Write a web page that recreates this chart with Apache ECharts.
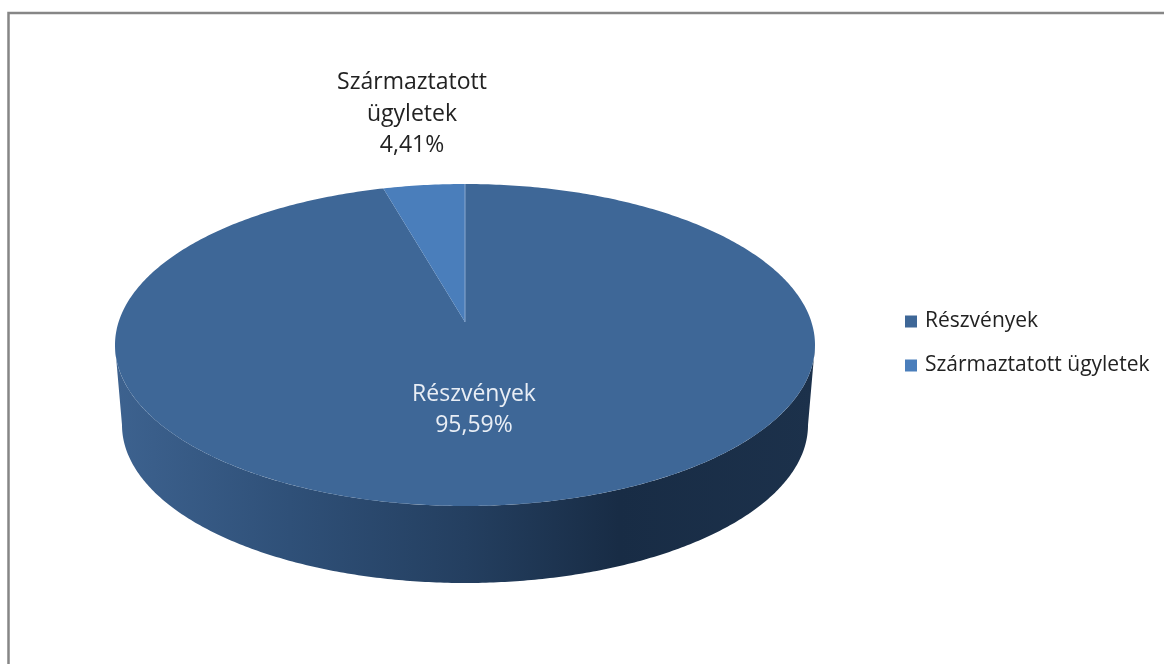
<!DOCTYPE html>
<html><head><meta charset="utf-8">
<style>html,body{margin:0;padding:0;background:#fff}#c{width:1164px;height:664px}</style>
<script src="https://cdn.jsdelivr.net/npm/echarts@6/dist/echarts.min.js"></script>
</head><body><div id="c"></div>
<script>
var categories = ['Részvények', 'Származtatott ügyletek'];
var values = [95.59, 4.41];
var labelNames = ['Részvények', 'Származtatott\nügyletek'];
var sliceColors = ['#3e6797', '#4a7ebb'];
var labelColors = ['#e9eef5', '#222222'];

var FONT = '"Open Sans","Noto Sans",sans-serif';
var TIP = {x: 465, y: 322};
var TOP = {cx: 465, cy: 345, rx: 350, ry: 161};
var BOTTOM = {cx: 465, cy: 425, rx: 343, ry: 158};
var LABEL_POS = [{x: 474, y: 410}, {x: 412, y: 114}];
var VIEW_FACTOR = 0.85; // tilted view compresses angles near the far edge

function ell(e, t) { return [e.cx + e.rx * Math.sin(t), e.cy - e.ry * Math.cos(t)]; }
function arc(e, a, b) {
  var pts = [], n = Math.max(8, Math.ceil(Math.abs(b - a) * 90));
  for (var i = 0; i <= n; i++) pts.push(ell(e, a + (b - a) * i / n));
  return pts;
}
var total = values.reduce(function (s, v) { return s + v; }, 0);

function renderSlice(idx) {
  return function (params, api) {
    var v = api.value(0);
    var startShare = 0;
    for (var i = 0; i < idx; i++) startShare += values[i];
    var a = startShare / total * Math.PI * 2;
    var b = a + v / total * Math.PI * 2;
    // the tilted view is applied around the slice boundary at 12 o'clock
    var wedgeTurn = function (t) { return Math.PI * 2 - (Math.PI * 2 - t) * VIEW_FACTOR; };
    var sa = idx === 0 ? a : wedgeTurn(a), sb = idx === 0 ? wedgeTurn(b) : b;
    var children = [];
    if (idx === 0) {
      var wall = arc(TOP, Math.PI / 2, Math.PI * 1.5).concat(arc(BOTTOM, Math.PI * 1.5, Math.PI / 2));
      children.push({
        type: 'polygon', shape: {points: wall},
        style: {fill: {type: 'linear', global: true, x: 115, y: 0, x2: 815, y2: 0, colorStops: [
          {offset: 0, color: '#3d628f'}, {offset: 0.25, color: '#2f5078'},
          {offset: 0.5, color: '#243f60'}, {offset: 0.72, color: '#182c45'},
          {offset: 1, color: '#1c314b'}]}}
      });
    }
    children.push({
      type: 'polygon', shape: {points: [[TIP.x, TIP.y]].concat(arc(TOP, sa, sb))},
      style: {fill: sliceColors[idx]}
    });
    if (idx === 1) {
      children.push({
        type: 'line', shape: {x1: TIP.x, y1: TIP.y, x2: TOP.cx, y2: TOP.cy - TOP.ry},
        style: {stroke: '#8aa9cf', lineWidth: 1}
      });
    }
    children.push({
      type: 'text', z2: 10,
      style: {
        x: LABEL_POS[idx].x, y: LABEL_POS[idx].y,
        text: labelNames[idx] + '\n' + v.toFixed(2).replace('.', ',') + '%',
        fill: labelColors[idx], font: '23px ' + FONT, lineHeight: 31.5,
        align: 'center', verticalAlign: 'middle'
      }
    });
    return {type: 'group', children: children};
  };
}

var chart = echarts.init(document.getElementById('c'));
chart.setOption({
  animation: false,
  backgroundColor: '#ffffff',
  legend: {
    orient: 'vertical', left: 905, top: 311, padding: 0, icon: 'rect',
    itemWidth: 12, itemHeight: 12, itemGap: 23,
    textStyle: {fontFamily: FONT, fontSize: 21, color: '#222222', padding: [0, 0, 0, 3]},
    data: categories
  },
  graphic: [{
    type: 'rect', silent: true, z: -1,
    shape: {x: 8.5, y: 13, width: 1400, height: 900},
    style: {fill: 'none', stroke: '#868686', lineWidth: 2.5}
  }],
  series: categories.map(function (name, i) {
    return {
      type: 'custom', name: name, coordinateSystem: 'none',
      itemStyle: {color: sliceColors[i]},
      renderItem: renderSlice(i),
      data: [[values[i]]], silent: true
    };
  })
});
</script></body></html>
